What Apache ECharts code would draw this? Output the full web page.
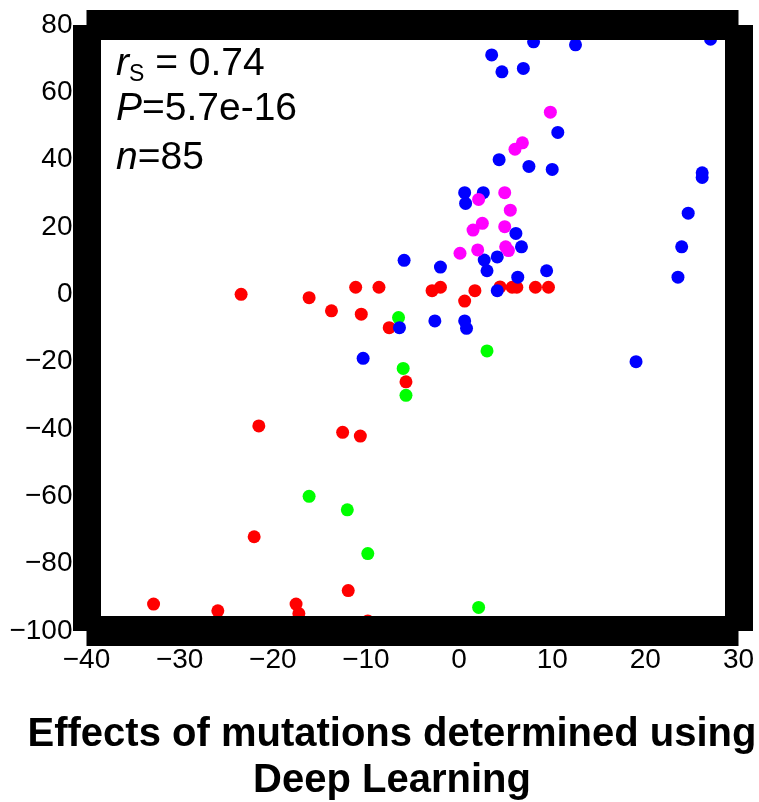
<!DOCTYPE html>
<html><head><meta charset="utf-8">
<script src="https://cdn.jsdelivr.net/npm/echarts@6/dist/echarts.min.js"></script>
<style>html,body{margin:0;padding:0;background:#fff}#chart{width:759px;height:802px}</style>
</head><body><div id="chart"></div>
<script>
// Axis ranges
const xMin = -40, xMax = 30, xStep = 10;
const yMin = -100, yMax = 80, yStep = 20;

// Data points [x, y]
const redPts = [[-23.4,0.0],[-16.1,-1.0],[-11.1,2.1],[-8.6,2.1],[-13.7,-4.9],[-10.5,-5.9],[-7.5,-9.9],[-5.7,-26.0],[-21.5,-39.1],[-12.5,-41.0],[-10.6,-42.1],[-22.0,-72.0],[-11.9,-88.0],[-32.8,-92.0],[-25.9,-94.0],[-17.5,-92.0],[-17.2,-94.8],[-9.8,-97.0],[-2.9,1.1],[-2.0,2.1],[0.6,-2.0],[1.7,1.1],[4.4,2.2],[5.7,2.1],[6.2,2.1],[8.2,2.1],[9.6,2.1]];
const greenPts = [[-6.5,-6.9],[-6.0,-22.0],[-5.7,-30.0],[3.0,-16.8],[-16.1,-60.0],[-12.0,-64.0],[-9.8,-77.0],[2.1,-93.0]];
const bluePts = [[8.0,75.0],[12.5,74.1],[3.5,71.1],[4.6,66.1],[6.9,67.1],[27.0,75.8],[10.6,48.1],[4.3,40.0],[7.5,38.0],[10.0,37.1],[26.1,36.1],[26.1,34.7],[24.6,24.1],[23.9,14.1],[23.5,5.1],[19.0,-20.0],[0.6,30.2],[2.6,30.2],[0.7,27.0],[6.1,18.1],[6.7,14.1],[2.7,10.2],[4.1,11.1],[3.0,7.0],[-5.9,10.1],[-2.0,8.1],[9.4,7.0],[6.3,5.1],[4.1,1.1],[-6.4,-9.9],[-10.3,-19.0],[-2.6,-7.9],[0.6,-7.9],[0.8,-10.1]];
const magentaPts = [[9.8,54.1],[6.8,45.0],[6.0,43.1],[2.1,28.2],[4.9,30.2],[5.5,25.0],[2.5,21.1],[1.5,19.1],[4.9,20.1],[5.0,14.1],[5.3,13.0],[2.0,13.2],[0.1,12.2]];

// Texts
const statR = ' = 0.74';
const statP = '=5.7e-16';
const statN = '=85';
const titleLines = ['Effects of mutations determined using', 'Deep Learning'];

const FONT = 'Liberation Sans, Arial, Helvetica, sans-serif';
const minus = v => String(v).replace('-', '\u2212');

const chart = echarts.init(document.getElementById('chart'), null, {renderer: 'canvas'});

function xAx(pos, showLabel) {
  return {
    type: 'value', min: xMin, max: xMax, interval: xStep, position: pos, z: 10,
    axisLine: {show: true, onZero: false, lineStyle: {color: '#000', width: 30, cap: 'butt'}},
    axisTick: {show: false}, splitLine: {show: false},
    axisLabel: {show: showLabel, color: '#000', fontSize: 28, fontFamily: FONT, margin: 15, formatter: minus}
  };
}
function yAx(pos, showLabel) {
  return {
    type: 'value', min: yMin, max: yMax, interval: yStep, position: pos, z: 10,
    axisLine: {show: true, onZero: false, lineStyle: {color: '#000', width: 28, cap: 'butt'}},
    axisTick: {show: false}, splitLine: {show: false},
    axisLabel: {show: showLabel, color: '#000', fontSize: 28, fontFamily: FONT, margin: 14, formatter: minus}
  };
}
function sc(data, color) {
  return {type: 'scatter', data: data, symbol: 'circle', symbolSize: 13, z: 2,
    itemStyle: {color: color, opacity: 1, borderWidth: 0}, emphasis: {disabled: true}};
}

const richMain = (extra) => Object.assign({
  i: {fontFamily: FONT, fontSize: 39, fontStyle: 'italic', lineHeight: 44, fill: '#000'},
  t: {fontFamily: FONT, fontSize: 39, lineHeight: 44, fill: '#000'}
}, extra || {});

const option = {
  animation: false,
  backgroundColor: '#fff',
  grid: {left: 86.5, top: 25, width: 652, height: 606, containLabel: false},
  xAxis: [xAx('bottom', true), xAx('top', false)],
  yAxis: [yAx('left', true), yAx('right', false)],
  series: [sc(redPts, '#ff0000'), sc(greenPts, '#00ff00'), sc(bluePts, '#0000ff'), sc(magentaPts, '#ff00ff')],
  graphic: [
    {type: 'text', x: 116, y: 64, z: 20, style: {
      text: '{i|r}{s|S}{t|' + statR + '}', verticalAlign: 'middle', align: 'left', fill: '#000',
      rich: richMain({s: {fontFamily: FONT, fontSize: 23, lineHeight: 14, verticalAlign: 'bottom', fill: '#000'}})}},
    {type: 'text', x: 116, y: 109, z: 20, style: {
      text: '{i|P}{t|' + statP + '}', verticalAlign: 'middle', align: 'left', fill: '#000',
      rich: richMain()}},
    {type: 'text', x: 116, y: 158, z: 20, style: {
      text: '{i|n}{t|' + statN + '}', verticalAlign: 'middle', align: 'left', fill: '#000',
      rich: richMain()}},
    {type: 'text', x: 392, y: 735, z: 20, style: {
      text: titleLines[0], align: 'center', verticalAlign: 'middle', fill: '#000',
      fontFamily: FONT, fontSize: 40, fontWeight: 'bold'}},
    {type: 'text', x: 392, y: 781, z: 20, style: {
      text: titleLines[1], align: 'center', verticalAlign: 'middle', fill: '#000',
      fontFamily: FONT, fontSize: 40, fontWeight: 'bold'}}
  ]
};
chart.setOption(option);
</script>
</body></html>
